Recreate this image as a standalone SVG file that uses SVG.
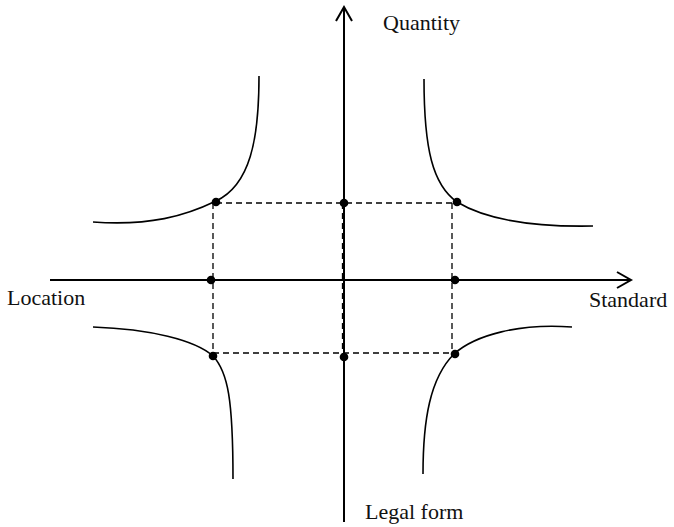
<svg xmlns="http://www.w3.org/2000/svg" width="674" height="527" viewBox="0 0 674 527">
<style>
.axis{stroke:#000;stroke-width:2;fill:none}
.head{stroke:#000;stroke-width:2;fill:none;stroke-linejoin:miter}
.curve{stroke:#000;stroke-width:1.6;fill:none}
.dash{stroke:#000;stroke-width:1.3;fill:none;stroke-dasharray:6 4}
.dot{fill:#000}
.lbl{font-family:"Liberation Serif","Times New Roman",serif;font-size:22px;fill:#111}
</style>
<rect width="674" height="527" fill="#fff"/>
<g id="connectors">
<g id="guides">
<path class="dash" d="M216,203 H457"/>
<path class="dash" d="M213,353 H455"/>
<path class="dash" d="M213,203 V356"/>
<path class="dash" d="M452,203 V354"/>
<path class="dash" d="M342.5,203 V357"/>
</g>
<g id="axes">
<line class="axis" x1="344" y1="7" x2="344" y2="522"/>
<polyline class="head" points="336,21 344,7 352,21"/>
<line class="axis" x1="50" y1="280" x2="631" y2="280"/>
<polyline class="head" points="617,272 631,280 617,288"/>
</g>
<g id="curves">
<path id="curve-tl" class="curve" d="M259,76 C259,140 250,185 216,201 C185,216 150,226 93,222"/>
<path id="curve-tr" class="curve" d="M424,79 C424,150 433,185 457,202 C490,222 540,227 593,226"/>
<path id="curve-bl" class="curve" d="M93,327 C150,329 195,340 213,356 C228,372 233,400 233,479"/>
<path id="curve-br" class="curve" d="M572,327 C520,323 475,335 454,354 C430,378 423,420 423,474"/>
</g>
</g>
<g id="points">
<circle id="p-tl" class="dot" cx="216" cy="202" r="4.3"/>
<circle id="p-tm" class="dot" cx="344" cy="203" r="4.3"/>
<circle id="p-tr" class="dot" cx="457" cy="202" r="4.3"/>
<circle id="p-ml" class="dot" cx="211" cy="280" r="4.3"/>
<circle id="p-mr" class="dot" cx="455" cy="280" r="4.3"/>
<circle id="p-bl" class="dot" cx="213" cy="356" r="4.3"/>
<circle id="p-bm" class="dot" cx="344" cy="357" r="4.3"/>
<circle id="p-br" class="dot" cx="455" cy="354" r="4.3"/>
</g>
<g id="label-quantity"><text class="lbl" x="383" y="30">Quantity</text></g>
<g id="label-location"><text class="lbl" x="7" y="305">Location</text></g>
<g id="label-standard"><text class="lbl" x="589" y="307">Standard</text></g>
<g id="label-legal"><text class="lbl" x="365" y="519">Legal form</text></g>
</svg>
